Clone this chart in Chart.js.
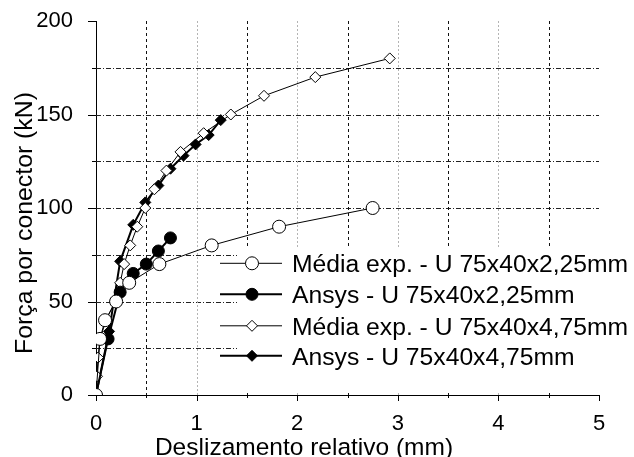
<!DOCTYPE html>
<html>
<head>
<meta charset="utf-8">
<title>Força por conector x deslizamento relativo</title>
<script src="https://cdn.jsdelivr.net/npm/chart.js@4.4.0/dist/chart.umd.min.js"></script>
<style>
  html, body { margin: 0; padding: 0; background: #fff; }
  canvas { display: block; }
</style>
</head>
<body>
<canvas id="chart" width="634" height="457"></canvas>
<script>
const FONT = '"Liberation Sans", Arial, sans-serif';

// ==================== Data ====================

// Média exp. - U 75x40x2,25mm
const expU225X = [0, 0.04, 0.09, 0.2, 0.33, 0.63, 1.15, 1.82, 2.75];
const expU225Y = [0, 30, 40, 50, 60, 70, 80, 90, 100];

// Ansys - U 75x40x2,25mm
const ansysU225X = [0, 0.12, 0.24, 0.37, 0.5, 0.62, 0.74];
const ansysU225Y = [0, 30, 55, 65, 70, 77, 84];

// Média exp. - U 75x40x4,75mm
const expU475X = [0, 0.01, 0.02, 0.04, 0.1, 0.19, 0.24, 0.28, 0.34, 0.41, 0.49,
                  0.58, 0.7, 0.84, 1.07, 1.34, 1.67, 2.18, 2.92];
const expU475Y = [0, 10, 20, 30, 40, 50, 60, 70, 80, 90, 100,
                  110, 120, 130, 140, 150, 160, 170, 180];

// Ansys - U 75x40x4,75mm
const ansysU475X = [0, 0.13, 0.24, 0.37, 0.49, 0.62, 0.74, 0.87, 0.99, 1.12, 1.24];
const ansysU475Y = [0, 34, 71.5, 91, 103, 112, 121, 128, 134, 139, 147];

const legendLabels = [
  'Média exp. - U 75x40x2,25mm',
  'Ansys - U 75x40x2,25mm',
  'Média exp. - U 75x40x4,75mm',
  'Ansys - U 75x40x4,75mm'
];

const xTitle = 'Deslizamento relativo (mm)';
const yTitle = 'Força por conector (kN)';

// Tick labels and grid positions
const xTickValues = [0, 1, 2, 3, 4, 5];
const xMinorTicks = [0.5, 1.5, 2.5, 3.5, 4.5];
const yTickValues = [0, 50, 100, 150, 200];
const yMinorTicks = [25, 75, 125, 175];
const xGridDashed = [0.5, 1.5, 2.5, 3.5, 4.5];
const xGridDotted = [1, 2, 3, 4];
const yGrid = [25, 50, 75, 100, 125, 150, 175];

const toPoints = (xs, ys) => xs.map((x, i) => ({ x: x, y: ys[i] }));

// ==================== Series styles ====================

const seriesStyles = [
  { pointStyle: 'circle', radius: 6.5, fill: '#fff', lineWidth: 1 },
  { pointStyle: 'circle', radius: 6, fill: '#000', lineWidth: 2 },
  { pointStyle: 'rectRot', radius: 5.5, fill: '#fff', lineWidth: 1 },
  { pointStyle: 'rectRot', radius: 5.5, fill: '#000', lineWidth: 2 }
];

const seriesData = [
  toPoints(expU225X, expU225Y),
  toPoints(ansysU225X, ansysU225Y),
  toPoints(expU475X, expU475Y),
  toPoints(ansysU475X, ansysU475Y)
];

const datasets = seriesData.map((data, i) => ({
  label: legendLabels[i],
  data: data,
  showLine: true,
  tension: 0,
  borderColor: '#000',
  borderWidth: seriesStyles[i].lineWidth,
  pointStyle: seriesStyles[i].pointStyle,
  pointRadius: seriesStyles[i].radius,
  pointBackgroundColor: seriesStyles[i].fill,
  pointBorderColor: '#000',
  pointBorderWidth: 1
}));

// ==================== Decorations ====================

function strokeLine(ctx, x1, y1, x2, y2) {
  ctx.beginPath();
  ctx.moveTo(x1, y1);
  ctx.lineTo(x2, y2);
  ctx.stroke();
}

const crisp = v => Math.round(v) + 0.5;

// Legend box geometry (pixels)
const LEGEND = { boxLeft: 237, boxTop: 247, lineX1: 220, lineX2: 282, markX: 252, textX: 292,
                 baselines: [272, 303, 334.5, 364.5] };

const decor = {
  id: 'decor',
  beforeDatasetsDraw(chart) {
    const { ctx, chartArea: area, scales: { x, y } } = chart;
    ctx.save();
    ctx.lineWidth = 1;

    // horizontal grid: dash-dot
    ctx.strokeStyle = '#222';
    ctx.setLineDash([5, 2, 1, 2]);
    yGrid.forEach(v => {
      const py = crisp(y.getPixelForValue(v));
      strokeLine(ctx, area.left, py, area.right, py);
    });

    // vertical grid at integers: light dotted
    ctx.strokeStyle = '#b4b4b4';
    ctx.setLineDash([2, 2]);
    xGridDotted.forEach(v => {
      const px = crisp(x.getPixelForValue(v));
      strokeLine(ctx, px, area.top, px, area.bottom);
    });

    // vertical grid at halves: dark dashed
    ctx.strokeStyle = '#111';
    ctx.setLineDash([3, 3]);
    xGridDashed.forEach(v => {
      const px = crisp(x.getPixelForValue(v));
      strokeLine(ctx, px, area.top, px, area.bottom);
    });
    ctx.setLineDash([]);

    // legend background hides the grid behind it
    ctx.fillStyle = '#fff';
    ctx.fillRect(LEGEND.boxLeft, LEGEND.boxTop, chart.width - LEGEND.boxLeft, area.bottom - 2 - LEGEND.boxTop);

    // axis ticks (outside)
    ctx.strokeStyle = '#000';
    const xAxisY = area.bottom;
    xTickValues.forEach(v => {
      const px = crisp(x.getPixelForValue(v));
      strokeLine(ctx, px, xAxisY, px, xAxisY + 6);
    });
    xMinorTicks.forEach(v => {
      const px = crisp(x.getPixelForValue(v));
      strokeLine(ctx, px, xAxisY, px, xAxisY + 3);
    });
    yTickValues.forEach(v => {
      const py = crisp(y.getPixelForValue(v));
      strokeLine(ctx, area.left - 8, py, area.left, py);
    });
    yMinorTicks.forEach(v => {
      const py = crisp(y.getPixelForValue(v));
      strokeLine(ctx, area.left - 4, py, area.left, py);
    });
    ctx.restore();
  },

  afterDraw(chart) {
    const { ctx } = chart;
    ctx.save();

    // legend entries
    legendLabels.forEach((label, i) => {
      const st = seriesStyles[i];
      const base = LEGEND.baselines[i];
      const my = base - 8.7;
      ctx.strokeStyle = '#000';
      ctx.lineWidth = st.lineWidth;
      strokeLine(ctx, LEGEND.lineX1, my, LEGEND.lineX2, my);
      ctx.fillStyle = st.fill;
      ctx.lineWidth = 1;
      Chart.helpers.drawPoint(ctx, { pointStyle: st.pointStyle, radius: st.radius, rotation: 0, borderWidth: 1 },
        LEGEND.markX, my);
      ctx.fillStyle = '#000';
      ctx.font = `24.7px ${FONT}`;
      ctx.textAlign = 'left';
      ctx.textBaseline = 'alphabetic';
      ctx.fillText(label, LEGEND.textX, base);
    });

    // axis titles
    ctx.fillStyle = '#000';
    ctx.textAlign = 'center';
    ctx.textBaseline = 'alphabetic';
    ctx.font = `24.5px ${FONT}`;
    ctx.fillText(xTitle, 304, 455);

    ctx.translate(32, 223);
    ctx.rotate(-Math.PI / 2);
    ctx.font = `24.8px ${FONT}`;
    ctx.fillText(yTitle, 0, 0);
    ctx.restore();
  }
};

// ==================== Chart ====================

new Chart(document.getElementById('chart'), {
  type: 'scatter',
  data: { datasets: datasets },
  options: {
    responsive: false,
    animation: false,
    events: [],
    layout: { padding: { left: 0, right: 35, top: 21, bottom: 0 } },
    plugins: {
      legend: { display: false },
      tooltip: { enabled: false }
    },
    scales: {
      x: {
        type: 'linear',
        min: 0,
        max: 5,
        afterBuildTicks: scale => { scale.ticks = xTickValues.map(v => ({ value: v })); },
        afterFit: scale => {
          scale.height = 62;
          scale.paddingLeft = 0;
          scale.paddingRight = 0;
        },
        grid: { display: false },
        border: { display: true, color: '#000', width: 1 },
        ticks: { color: '#000', padding: 8, maxRotation: 0, font: { family: FONT, size: 22 } }
      },
      y: {
        type: 'linear',
        min: 0,
        max: 200,
        afterBuildTicks: scale => { scale.ticks = yTickValues.map(v => ({ value: v })); },
        afterFit: scale => {
          scale.width = 96;
          scale.paddingTop = 0;
          scale.paddingBottom = 0;
        },
        grid: { display: false },
        border: { display: true, color: '#000', width: 1 },
        ticks: { color: '#000', padding: 15, font: { family: FONT, size: 22 } }
      }
    }
  },
  plugins: [decor]
});
</script>
</body>
</html>
